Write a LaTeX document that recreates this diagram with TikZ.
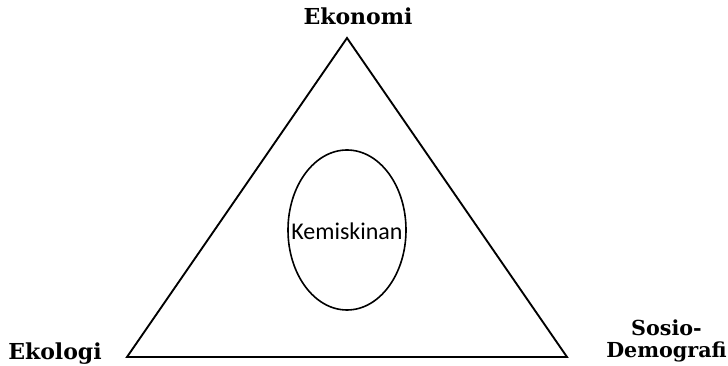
\documentclass[tikz,border=0pt]{standalone}
\usepackage{fontspec}
\setmainfont{DejaVu Serif}
\newfontfamily\calib{Carlito}
\usetikzlibrary{shapes.geometric}
\tikzset{
  edge/.style={draw=black, line width=1.4pt, line join=miter},
  lbl/.style={font=\fontsize{16.5}{16.5}\selectfont\bfseries, inner sep=0pt, anchor=base},
  core/.style={ellipse, draw=black, line width=1.2pt, minimum width=88.5pt, minimum height=120pt, inner sep=0pt},
  coretext/.style={font=\calib\fontsize{18}{20}\selectfont, inner sep=0pt, anchor=base}
}
\begin{document}
\begin{tikzpicture}[x=0.75pt, y=-0.75pt]
  \useasboundingbox (0,0) rectangle (728,366);
  \coordinate (top) at (347,38);
  \coordinate (bl) at (127,357);
  \coordinate (br) at (567,357);
  \draw[edge] (top) -- (bl) -- (br) -- cycle;
  \node[core] (pov) at (347,230) {};
  \node[coretext] (povtxt) at (347,240) {Kemiskinan};
  \node[lbl] (eko) at (358,25) {Ekonomi};
  \node[lbl] (ekl) at (55,360) {Ekologi};
  \node[lbl, anchor=base east, font=\fontsize{15.5}{16.5}\selectfont\bfseries] (sos) at (702,336) {Sosio-};
  \node[lbl, anchor=base east, font=\fontsize{15.5}{16.5}\selectfont\bfseries] (dem) at (727,358) {Demografi};
\end{tikzpicture}
\end{document}
